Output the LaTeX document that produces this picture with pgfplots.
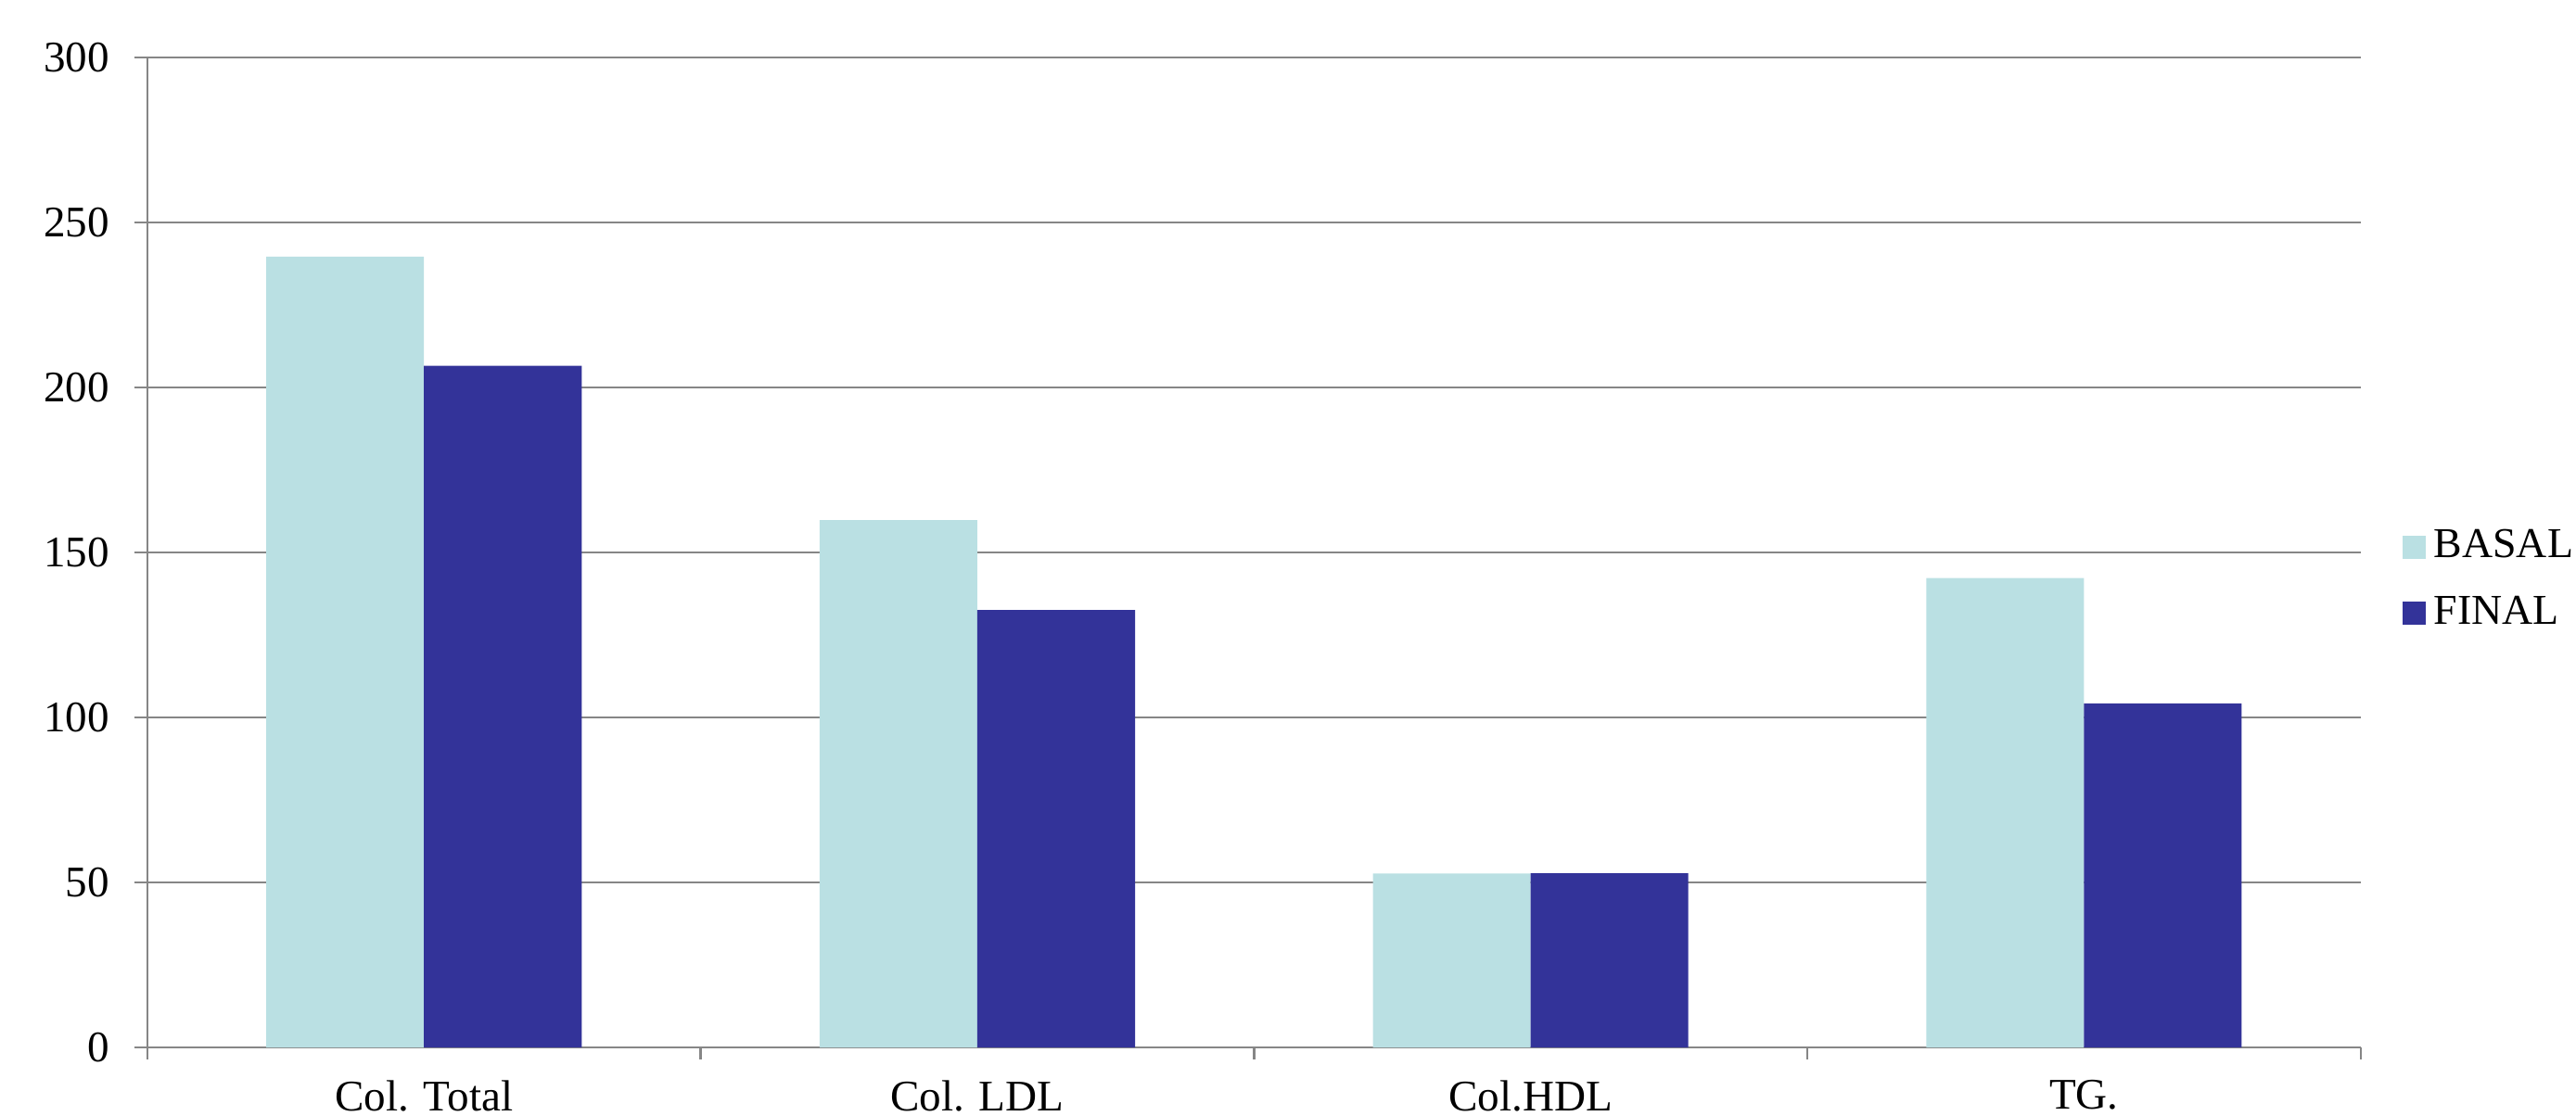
\documentclass[border=0pt]{standalone}
\usepackage{fontspec}
\setmainfont{Liberation Serif}
\usepackage{pgfplots}
\pgfplotsset{compat=1.18}
\definecolor{basal}{RGB}{186,224,227}
\definecolor{final}{RGB}{51,51,153}
\definecolor{gridg}{RGB}{134,134,134}
\begin{document}
\fontsize{11}{13}\selectfont
\begin{tikzpicture}
\path[use as bounding box] (-38.1pt,-17.7pt) rectangle (628.1pt,271pt);
\begin{axis}[
  at={(0,0)}, anchor=south west,
  scale only axis,
  width=572.4pt, height=256.1pt,
  ybar=0pt, bar width=0.285,
  xmin=-0.5, xmax=3.5,
  ymin=0, ymax=300,
  ytick={0,50,...,300},
  xtick={0,1,2,3},
  xticklabels={Col. Total, Col. LDL, Col.HDL, TG.},
  minor xtick={-0.5,0.5,1.5,2.5,3.5},
  major x tick style={draw=none},
  minor x tick style={draw=gridg, line width=0.6pt},
  ytick style={draw=gridg, line width=0.6pt},
  tick align=outside,
  major tick length=3.4pt,
  minor tick length=3pt,
  axis x line*=bottom, axis y line*=left,
  axis line style={draw=gridg, line width=0.6pt, -},
  ymajorgrids,
  grid style={draw=gridg, line width=0.6pt},
  /pgf/number format/assume math mode=true,
  tick label style={font=\fontsize{11.3}{13}\selectfont},
  yticklabel style={xshift=-2.6pt},
  xticklabel style={yshift=-1.3pt},
  legend style={draw=none, at={(1.0135,0.472)}, anchor=west,
    font=\fontsize{11}{13}\selectfont, row sep=4.3pt, fill=none},
  legend cell align=left,
  legend image code/.code={\fill[#1] (0pt,-3pt) rectangle (6pt,3pt);},
]
\addplot[fill=basal, draw=none] coordinates {(0,239.7) (1,159.8) (2,52.7) (3,142.3)};
\addplot[fill=final, draw=none] coordinates {(0,206.6) (1,132.6) (2,52.8) (3,104.3)};
\legend{BASAL, FINAL}
\end{axis}
\end{tikzpicture}
\end{document}
